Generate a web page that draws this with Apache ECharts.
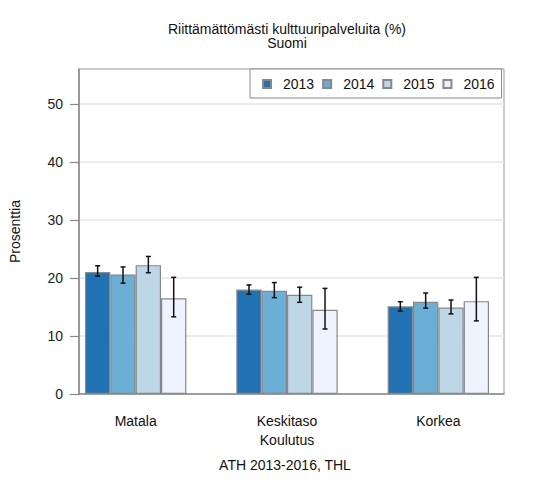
<!DOCTYPE html>
<html lang="fi">
<head>
<meta charset="UTF-8">
<title>Riittämättömästi kulttuuripalveluita</title>
<script src="https://cdn.jsdelivr.net/npm/echarts@6/dist/echarts.min.js"></script>
<style>
  html, body { margin: 0; padding: 0; background: #fff; }
  #chart { width: 540px; height: 480px; }
</style>
</head>
<body>
<div id="chart"></div>
<script>
var years = ['2013', '2014', '2015', '2016'];
var categories = ['Matala', 'Keskitaso', 'Korkea'];

// osuudet (%) ja luottamusvälit
var v2013 = [21.0, 18.0, 15.1];
var v2014 = [20.6, 17.8, 15.9];
var v2015 = [22.2, 17.1, 14.9];
var v2016 = [16.5, 14.5, 16.0];

var lo2013 = [20.3, 17.2, 14.3];
var hi2013 = [22.1, 18.8, 15.9];
var lo2014 = [19.1, 16.6, 14.8];
var hi2014 = [21.9, 19.2, 17.4];
var lo2015 = [20.9, 15.8, 13.8];
var hi2015 = [23.7, 18.4, 16.2];
var lo2016 = [13.3, 11.2, 12.6];
var hi2016 = [20.1, 18.2, 20.1];

var yTicks = [0, 10, 20, 30, 40, 50];

var values = [v2013, v2014, v2015, v2016];
var lows = [lo2013, lo2014, lo2015, lo2016];
var highs = [hi2013, hi2014, hi2015, hi2016];
var colors = ['#2171b5', '#6baed6', '#bdd7e7', '#eff3ff'];

var font = 'Liberation Sans, Arial, sans-serif';
var fs = 14;
var gapRatio = 0.33;

var chart = echarts.init(document.getElementById('chart'), null, {renderer: 'svg'});

var series = [];
years.forEach(function (y, k) {
    series.push({
        name: y,
        type: 'bar',
        xAxisIndex: 1,
        yAxisIndex: 1,
        barGap: 0,
        barCategoryGap: (gapRatio * 100) + '%',
        data: values[k],
        itemStyle: {color: colors[k], borderColor: '#888', borderWidth: 1.2},
        emphasis: {disabled: true},
        z: 2
    });
});

// virhepalkit
years.forEach(function (y, k) {
    var errData = categories.map(function (c, i) { return [i, lows[k][i], highs[k][i]]; });
    series.push({
        type: 'custom',
        xAxisIndex: 1,
        yAxisIndex: 1,
        data: errData,
        z: 5,
        silent: true,
        renderItem: function (params, api) {
            var ci = api.value(0);
            var band = api.size([1, 0])[0];
            var barW = band * (1 - gapRatio) / years.length;
            var cx = api.coord([ci, 0])[0] + (k - (years.length - 1) / 2) * barW;
            var yLo = api.coord([ci, api.value(1)])[1];
            var yHi = api.coord([ci, api.value(2)])[1];
            var st = {stroke: '#111', lineWidth: 1.5};
            return {
                type: 'group',
                children: [
                    {type: 'line', shape: {x1: cx, y1: yLo, x2: cx, y2: yHi}, style: st},
                    {type: 'line', shape: {x1: cx - 2.5, y1: yLo, x2: cx + 2.5, y2: yLo}, style: st},
                    {type: 'line', shape: {x1: cx - 2.5, y1: yHi, x2: cx + 2.5, y2: yHi}, style: st}
                ]
            };
        }
    });
});

chart.setOption({
    animation: false,
    textStyle: {fontFamily: font},
    graphic: [
        {type: 'text', x: 287, y: 28.5, style: {text: 'Riittämättömästi kulttuuripalveluita (%)', fontSize: fs, fontFamily: font, fill: '#111', align: 'center', verticalAlign: 'middle'}},
        {type: 'text', x: 287, y: 43, style: {text: 'Suomi', fontSize: fs, fontFamily: font, fill: '#111', align: 'center', verticalAlign: 'middle'}},
        {type: 'text', x: 285, y: 464.5, style: {text: 'ATH 2013-2016, THL', fontSize: fs, fontFamily: font, fill: '#111', align: 'center', verticalAlign: 'middle'}}
    ],
    legend: {
        data: years,
        left: 250,
        top: 69,
        padding: [8, 7, 7, 12],
        itemWidth: 8,
        itemHeight: 8,
        itemGap: 8,
        icon: 'rect',
        backgroundColor: '#fff',
        borderColor: '#888',
        borderWidth: 1,
        selectedMode: false,
        textStyle: {fontSize: fs, color: '#111', fontFamily: font, padding: [0, 0, 0, 7]},
        z: 10
    },
    grid: [
        {left: 69, right: 36, top: 69, bottom: 86, show: true, borderColor: '#999', borderWidth: 1, backgroundColor: 'transparent'},
        {left: 60, right: 26, top: 69, bottom: 86}
    ],
    xAxis: [
        {
            type: 'value', gridIndex: 0, min: 0, max: 1,
            axisLine: {show: true, lineStyle: {color: '#888', width: 1.5}},
            axisTick: {show: false}, axisLabel: {show: false}, splitLine: {show: false}
        },
        {
            type: 'category', gridIndex: 1, data: categories,
            axisLine: {show: false}, axisTick: {show: false},
            axisLabel: {fontSize: fs, color: '#111', margin: 20, fontFamily: font},
            name: 'Koulutus', nameLocation: 'middle', nameGap: 38,
            nameTextStyle: {fontSize: fs, color: '#111', fontFamily: font}
        }
    ],
    yAxis: [
        {
            type: 'value', gridIndex: 0, min: 0, max: 56, interval: 10,
            name: 'Prosenttia', nameLocation: 'middle', nameGap: 57,
            nameTextStyle: {fontSize: fs, color: '#111', fontFamily: font},
            axisLine: {show: true, lineStyle: {color: '#888', width: 1.5}},
            axisTick: {show: true, length: 9, lineStyle: {color: '#888', width: 1.2}, customValues: yTicks},
            axisLabel: {fontSize: fs, color: '#222', margin: 16, fontFamily: font, customValues: yTicks},
            splitLine: {show: true, lineStyle: {color: '#e6e6e6', width: 1.5}}
        },
        {
            type: 'value', gridIndex: 1, min: 0, max: 56,
            show: false, splitLine: {show: false}
        }
    ],
    series: series
});
</script>
</body>
</html>
